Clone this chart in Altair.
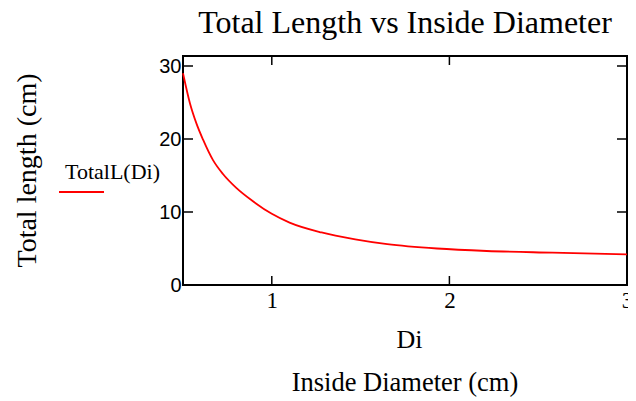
import altair as alt
import pandas as pd

# Data
di_values = [0.5, 0.539, 0.576, 0.613, 0.669, 0.725, 0.80, 0.892, 1.0, 1.1,
             1.28, 1.47, 1.65, 1.93, 2.21, 2.58, 3.0]
total_length = [29.0, 24.9, 22.1, 19.9, 17.1, 15.2, 13.3, 11.5, 9.75, 8.55,
                7.2, 6.26, 5.6, 5.0, 4.66, 4.43, 4.2]
x_ticks = [1, 2, 3]
y_ticks = [0, 10, 20, 30]
series_name = "TotalL(Di)"
chart_title = "Total Length vs Inside Diameter"
y_title = "Total length (cm)"
x_title = "Di"
x_title2 = "Inside Diameter (cm)"

W, H = 444, 229
SERIF = "Liberation Serif"
SANS = "Liberation Sans"

df = pd.DataFrame({"Di": di_values, "L": total_length})
xt = pd.DataFrame({"Di": x_ticks})
yt = pd.DataFrame({"L": y_ticks})

xscale = alt.Scale(domain=[0.5, 3], nice=False, zero=False)
yscale = alt.Scale(domain=[0, 31.37], nice=False)

x_axis = alt.Axis(values=x_ticks, title=x_title, grid=False, domain=False, tickSize=0,
                  labelFont=SERIF, labelFontSize=23, labelColor="black", labelPadding=4,
                  labelFlush=False, labelOverlap=False,
                  titleFont=SERIF, titleFontSize=26, titleFontWeight="normal", titleColor="black",
                  titleX=226, titleY=62, titleBaseline="alphabetic", titleAlign="center")
y_axis = alt.Axis(values=y_ticks, title=y_title, grid=False, domain=False, tickSize=0,
                  labelFont=SANS, labelFontSize=20, labelColor="black", labelPadding=2,
                  titleFont=SERIF, titleFontSize=28, titleFontWeight="normal", titleColor="black",
                  titleAngle=270, titleX=-156, titleY=114, titleAlign="center",
                  titleBaseline="middle")

line = alt.Chart(df).mark_line(color="#ff0000", strokeWidth=1.8, interpolate="monotone").encode(
    x=alt.X("Di:Q", scale=xscale, axis=x_axis),
    y=alt.Y("L:Q", scale=yscale, axis=y_axis),
)

tick_style = dict(color="black", strokeWidth=1.5)
bottom_ticks = alt.Chart(xt).mark_rule(**tick_style).encode(
    x=alt.X("Di:Q", scale=xscale, axis=x_axis), y=alt.value(H), y2=alt.value(H - 9))
top_ticks = alt.Chart(xt).mark_rule(**tick_style).encode(
    x=alt.X("Di:Q", scale=xscale, axis=x_axis), y=alt.value(0), y2=alt.value(9))
left_ticks = alt.Chart(yt).mark_rule(**tick_style).encode(
    y=alt.Y("L:Q", scale=yscale, axis=y_axis), x=alt.value(0), x2=alt.value(10))
right_ticks = alt.Chart(yt).mark_rule(**tick_style).encode(
    y=alt.Y("L:Q", scale=yscale, axis=y_axis), x=alt.value(W - 10), x2=alt.value(W))

legend_text = alt.Chart(pd.DataFrame({"t": [series_name]})).mark_text(
    font=SERIF, fontSize=22, color="black", align="left", baseline="alphabetic").encode(
    text="t:N", x=alt.value(-118), y=alt.value(123))
legend_line = alt.Chart(pd.DataFrame({"t": [series_name]})).mark_rule(
    color="#ff0000", strokeWidth=1.8).encode(
    x=alt.value(-124), x2=alt.value(-79), y=alt.value(136))

bottom_title = alt.Chart(pd.DataFrame({"t": [x_title2]})).mark_text(
    font=SERIF, fontSize=26.5, color="black", align="center", baseline="alphabetic").encode(
    text="t:N", x=alt.value(222), y=alt.value(335))

chart = alt.layer(
    line, bottom_ticks, top_ticks, left_ticks, right_ticks,
    legend_text, legend_line, bottom_title
).properties(
    width=W, height=H,
    autosize=alt.AutoSizeParams(type="none"),
    padding={"left": 175, "top": 48, "right": 1, "bottom": 112},
    title=alt.TitleParams(chart_title, font=SERIF, fontSize=32, fontWeight="normal",
                          color="black", anchor="middle", frame="group",
                          baseline="alphabetic", offset=-10),
).configure_view(stroke="black", strokeWidth=2).configure_axisX(labelFont=SERIF)

chart.save("out.html", embed_options={"renderer": "svg", "actions": False})
